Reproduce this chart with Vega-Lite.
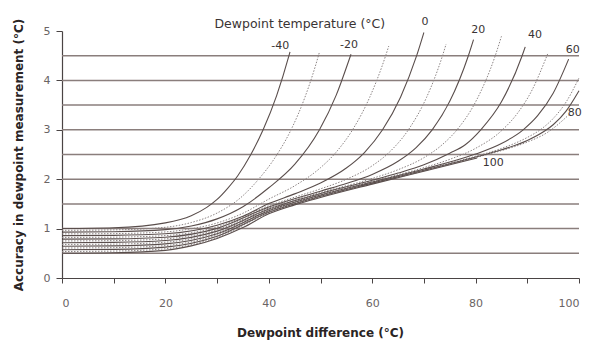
{
  "$schema": "https://vega.github.io/schema/vega-lite/v6.json",
  "width": 517,
  "height": 247,
  "autosize": {"type": "none"},
  "padding": {"left": 62, "top": 31, "right": 17, "bottom": 69},
  "background": "white",
  "config": {"view": {"stroke": null}},
  "datasets": {
    "curves": [
      {"T": -40, "x": 0, "y": 1.002}, {"T": -40, "x": 10, "y": 1.018}, {"T": -40, "x": 20, "y": 1.116}, {"T": -40, "x": 25, "y": 1.26}, {"T": -40, "x": 28, "y": 1.43}, {"T": -40, "x": 30, "y": 1.59}, {"T": -40, "x": 32, "y": 1.81}, {"T": -40, "x": 34, "y": 2.07}, {"T": -40, "x": 36.5, "y": 2.494}, {"T": -40, "x": 38.9, "y": 3.0}, {"T": -40, "x": 41.5, "y": 3.687}, {"T": -40, "x": 43.9, "y": 4.5}, {"T": -40, "x": 44.1, "y": 4.576},
      {"T": -30, "x": 0, "y": 0.965}, {"T": -30, "x": 10, "y": 0.974}, {"T": -30, "x": 20, "y": 1.027}, {"T": -30, "x": 25, "y": 1.123}, {"T": -30, "x": 30, "y": 1.315}, {"T": -30, "x": 35, "y": 1.667}, {"T": -30, "x": 38, "y": 1.996}, {"T": -30, "x": 41, "y": 2.405}, {"T": -30, "x": 44.3, "y": 3.0}, {"T": -30, "x": 47, "y": 3.662}, {"T": -30, "x": 49.6, "y": 4.5}, {"T": -30, "x": 49.8, "y": 4.574},
      {"T": -20, "x": 0, "y": 0.929}, {"T": -20, "x": 10, "y": 0.937}, {"T": -20, "x": 20, "y": 0.979}, {"T": -20, "x": 25, "y": 1.054}, {"T": -20, "x": 30, "y": 1.197}, {"T": -20, "x": 35, "y": 1.443}, {"T": -20, "x": 40, "y": 1.826}, {"T": -20, "x": 45, "y": 2.298}, {"T": -20, "x": 49.8, "y": 3.0}, {"T": -20, "x": 53, "y": 3.691}, {"T": -20, "x": 55.8, "y": 4.5}, {"T": -20, "x": 55.9, "y": 4.53},
      {"T": -10, "x": 0, "y": 0.893}, {"T": -10, "x": 10, "y": 0.899}, {"T": -10, "x": 20, "y": 0.933}, {"T": -10, "x": 25, "y": 0.997}, {"T": -10, "x": 30, "y": 1.114}, {"T": -10, "x": 35, "y": 1.311}, {"T": -10, "x": 40, "y": 1.597}, {"T": -10, "x": 45, "y": 1.866}, {"T": -10, "x": 50, "y": 2.233}, {"T": -10, "x": 53, "y": 2.544}, {"T": -10, "x": 56.2, "y": 3.0}, {"T": -10, "x": 59.5, "y": 3.654}, {"T": -10, "x": 62.6, "y": 4.5}, {"T": -10, "x": 63.2, "y": 4.695},
      {"T": 0, "x": 0, "y": 0.857}, {"T": 0, "x": 10, "y": 0.863}, {"T": 0, "x": 20, "y": 0.895}, {"T": 0, "x": 30, "y": 1.068}, {"T": 0, "x": 35, "y": 1.25}, {"T": 0, "x": 40, "y": 1.506}, {"T": 0, "x": 45, "y": 1.703}, {"T": 0, "x": 50, "y": 1.922}, {"T": 0, "x": 55, "y": 2.226}, {"T": 0, "x": 58.5, "y": 2.54}, {"T": 0, "x": 62, "y": 3.0}, {"T": 0, "x": 65.5, "y": 3.666}, {"T": 0, "x": 68.6, "y": 4.5}, {"T": 0, "x": 70, "y": 4.97},
      {"T": 10, "x": 0, "y": 0.821}, {"T": 10, "x": 10, "y": 0.827}, {"T": 10, "x": 20, "y": 0.859}, {"T": 10, "x": 30, "y": 1.033}, {"T": 10, "x": 40, "y": 1.463}, {"T": 10, "x": 45, "y": 1.637}, {"T": 10, "x": 50, "y": 1.804}, {"T": 10, "x": 55, "y": 1.998}, {"T": 10, "x": 60, "y": 2.272}, {"T": 10, "x": 63.5, "y": 2.565}, {"T": 10, "x": 67, "y": 3.0}, {"T": 10, "x": 70.5, "y": 3.653}, {"T": 10, "x": 73.6, "y": 4.5}, {"T": 10, "x": 74.3, "y": 4.737},
      {"T": 20, "x": 0, "y": 0.786}, {"T": 20, "x": 10, "y": 0.792}, {"T": 20, "x": 20, "y": 0.826}, {"T": 20, "x": 30, "y": 1.005}, {"T": 20, "x": 40, "y": 1.438}, {"T": 20, "x": 50, "y": 1.758}, {"T": 20, "x": 55, "y": 1.913}, {"T": 20, "x": 60, "y": 2.097}, {"T": 20, "x": 65, "y": 2.362}, {"T": 20, "x": 68.5, "y": 2.64}, {"T": 20, "x": 71.6, "y": 3.0}, {"T": 20, "x": 75, "y": 3.576}, {"T": 20, "x": 78.6, "y": 4.5}, {"T": 20, "x": 79.6, "y": 4.826},
      {"T": 30, "x": 0, "y": 0.75}, {"T": 30, "x": 10, "y": 0.757}, {"T": 30, "x": 20, "y": 0.792}, {"T": 30, "x": 30, "y": 0.976}, {"T": 30, "x": 40, "y": 1.416}, {"T": 30, "x": 50, "y": 1.73}, {"T": 30, "x": 60, "y": 2.015}, {"T": 30, "x": 65, "y": 2.192}, {"T": 30, "x": 70, "y": 2.436}, {"T": 30, "x": 73.5, "y": 2.694}, {"T": 30, "x": 76.4, "y": 3.0}, {"T": 30, "x": 80, "y": 3.565}, {"T": 30, "x": 83.8, "y": 4.5}, {"T": 30, "x": 85, "y": 4.893},
      {"T": 40, "x": 0, "y": 0.714}, {"T": 40, "x": 10, "y": 0.721}, {"T": 40, "x": 20, "y": 0.758}, {"T": 40, "x": 30, "y": 0.949}, {"T": 40, "x": 40, "y": 1.397}, {"T": 40, "x": 50, "y": 1.711}, {"T": 40, "x": 60, "y": 1.979}, {"T": 40, "x": 65, "y": 2.124}, {"T": 40, "x": 70, "y": 2.292}, {"T": 40, "x": 75, "y": 2.525}, {"T": 40, "x": 78, "y": 2.698}, {"T": 40, "x": 81, "y": 3.0}, {"T": 40, "x": 85, "y": 3.566}, {"T": 40, "x": 89, "y": 4.5}, {"T": 40, "x": 89.6, "y": 4.679},
      {"T": 50, "x": 0, "y": 0.679}, {"T": 50, "x": 10, "y": 0.686}, {"T": 50, "x": 20, "y": 0.725}, {"T": 50, "x": 30, "y": 0.923}, {"T": 50, "x": 40, "y": 1.379}, {"T": 50, "x": 50, "y": 1.695}, {"T": 50, "x": 60, "y": 1.959}, {"T": 50, "x": 70, "y": 2.234}, {"T": 50, "x": 75, "y": 2.402}, {"T": 50, "x": 80, "y": 2.625}, {"T": 50, "x": 85.2, "y": 3.0}, {"T": 50, "x": 88, "y": 3.321}, {"T": 50, "x": 91, "y": 3.821}, {"T": 50, "x": 93.8, "y": 4.5}, {"T": 50, "x": 94, "y": 4.552},
      {"T": 60, "x": 0, "y": 0.643}, {"T": 60, "x": 10, "y": 0.651}, {"T": 60, "x": 20, "y": 0.691}, {"T": 60, "x": 30, "y": 0.896}, {"T": 60, "x": 40, "y": 1.361}, {"T": 60, "x": 50, "y": 1.68}, {"T": 60, "x": 60, "y": 1.943}, {"T": 60, "x": 70, "y": 2.206}, {"T": 60, "x": 75, "y": 2.349}, {"T": 60, "x": 80, "y": 2.509}, {"T": 60, "x": 85, "y": 2.722}, {"T": 60, "x": 89.2, "y": 3.0}, {"T": 60, "x": 92, "y": 3.285}, {"T": 60, "x": 95, "y": 3.739}, {"T": 60, "x": 98, "y": 4.43},
      {"T": 70, "x": 0, "y": 0.607}, {"T": 70, "x": 10, "y": 0.615}, {"T": 70, "x": 20, "y": 0.657}, {"T": 70, "x": 30, "y": 0.871}, {"T": 70, "x": 40, "y": 1.345}, {"T": 70, "x": 50, "y": 1.667}, {"T": 70, "x": 60, "y": 1.931}, {"T": 70, "x": 70, "y": 2.19}, {"T": 70, "x": 75, "y": 2.325}, {"T": 70, "x": 80, "y": 2.464}, {"T": 70, "x": 85, "y": 2.623}, {"T": 70, "x": 90, "y": 2.845}, {"T": 70, "x": 92.5, "y": 3.0}, {"T": 70, "x": 95, "y": 3.228}, {"T": 70, "x": 97.5, "y": 3.561}, {"T": 70, "x": 100, "y": 4.05},
      {"T": 80, "x": 0, "y": 0.571}, {"T": 80, "x": 10, "y": 0.58}, {"T": 80, "x": 20, "y": 0.625}, {"T": 80, "x": 30, "y": 0.846}, {"T": 80, "x": 40, "y": 1.329}, {"T": 80, "x": 50, "y": 1.654}, {"T": 80, "x": 60, "y": 1.92}, {"T": 80, "x": 70, "y": 2.18}, {"T": 80, "x": 75, "y": 2.313}, {"T": 80, "x": 80, "y": 2.448}, {"T": 80, "x": 85, "y": 2.595}, {"T": 80, "x": 90, "y": 2.784}, {"T": 80, "x": 93.5, "y": 2.985}, {"T": 80, "x": 95, "y": 3.103}, {"T": 80, "x": 97.5, "y": 3.378}, {"T": 80, "x": 100, "y": 3.79},
      {"T": 90, "x": 0, "y": 0.536}, {"T": 90, "x": 10, "y": 0.545}, {"T": 90, "x": 20, "y": 0.592}, {"T": 90, "x": 30, "y": 0.823}, {"T": 90, "x": 40, "y": 1.314}, {"T": 90, "x": 50, "y": 1.643}, {"T": 90, "x": 60, "y": 1.91}, {"T": 90, "x": 70, "y": 2.17}, {"T": 90, "x": 80, "y": 2.438}, {"T": 90, "x": 85, "y": 2.579}, {"T": 90, "x": 90, "y": 2.752}, {"T": 90, "x": 94, "y": 2.954}, {"T": 90, "x": 98, "y": 3.3},
      {"T": 100, "x": 0, "y": 0.5}, {"T": 100, "x": 10, "y": 0.51}, {"T": 100, "x": 20, "y": 0.56}, {"T": 100, "x": 25, "y": 0.65}, {"T": 100, "x": 30, "y": 0.8}, {"T": 100, "x": 35, "y": 1.02}, {"T": 100, "x": 40, "y": 1.3}, {"T": 100, "x": 45, "y": 1.48}, {"T": 100, "x": 50, "y": 1.63}, {"T": 100, "x": 60, "y": 1.9}, {"T": 100, "x": 70, "y": 2.16}, {"T": 100, "x": 80.3, "y": 2.43}
    ],
    "labels": [
      {"label": "-40", "x": 42.2, "y": 4.7},
      {"label": "-20", "x": 55.5, "y": 4.72},
      {"label": "0", "x": 70.2, "y": 5.18},
      {"label": "20", "x": 80.5, "y": 5.02},
      {"label": "40", "x": 91.5, "y": 4.92},
      {"label": "60", "x": 98.8, "y": 4.62},
      {"label": "80", "x": 99.2, "y": 3.34},
      {"label": "100", "x": 83.4, "y": 2.33}
    ]
  },
  "layer": [
    {
      "data": {"values": [{"g": 0.5}, {"g": 1}, {"g": 1.5}, {"g": 2}, {"g": 2.5}, {"g": 3}, {"g": 3.5}, {"g": 4}, {"g": 4.5}]},
      "mark": {"type": "rule", "color": "#8a7e7c", "strokeWidth": 1.5},
      "encoding": {"y": {"field": "g", "type": "quantitative", "scale": {"domain": [0, 5]}}}
    },
    {
      "data": {"name": "curves"},
      "transform": [{"filter": "datum.T % 20 !== 0"}],
      "mark": {"type": "line", "interpolate": "monotone", "color": "#8c8484", "strokeWidth": 1, "strokeDash": [1.5, 1.5]},
      "encoding": {
        "x": {"field": "x", "type": "quantitative"},
        "y": {"field": "y", "type": "quantitative"},
        "detail": {"field": "T", "type": "nominal"},
        "order": {"field": "x", "type": "quantitative"}
      }
    },
    {
      "data": {"name": "curves"},
      "transform": [{"filter": "datum.T % 20 === 0"}],
      "mark": {"type": "line", "interpolate": "monotone", "color": "#5a4e4c", "strokeWidth": 1.1},
      "encoding": {
        "x": {"field": "x", "type": "quantitative"},
        "y": {"field": "y", "type": "quantitative"},
        "detail": {"field": "T", "type": "nominal"},
        "order": {"field": "x", "type": "quantitative"}
      }
    },
    {
      "data": {"name": "labels"},
      "mark": {"type": "text", "font": "DejaVu Sans", "fontSize": 11, "color": "#3a3434", "align": "center", "baseline": "middle", "clip": false},
      "encoding": {
        "x": {"field": "x", "type": "quantitative"},
        "y": {"field": "y", "type": "quantitative"},
        "text": {"field": "label"}
      }
    },
    {
      "data": {"values": [{"label": "Dewpoint temperature (°C)", "x": 46, "y": 5.14}]},
      "mark": {"type": "text", "font": "DejaVu Sans", "fontSize": 12.5, "color": "#3a3434", "align": "center", "baseline": "middle", "clip": false},
      "encoding": {
        "x": {"field": "x", "type": "quantitative"},
        "y": {"field": "y", "type": "quantitative"},
        "text": {"field": "label"}
      }
    }
  ],
  "encoding": {
    "x": {
      "type": "quantitative",
      "scale": {"domain": [0, 100], "nice": false},
      "axis": {
        "title": "Dewpoint difference (°C)",
        "values": [0, 10, 20, 30, 40, 50, 60, 70, 80, 90, 100],
        "labelExpr": "datum.value % 20 === 0 ? datum.label : ''",
        "grid": false,
        "domainColor": "#4a4444",
        "domainWidth": 1.2,
        "tickColor": "#4a4444",
        "tickSize": 5,
        "labelFont": "DejaVu Sans",
        "labelFontSize": 11,
        "labelColor": "#6a6464",
        "labelPadding": 14,
        "titleFont": "DejaVu Sans",
        "titleFontSize": 12,
        "titleFontWeight": "bold",
        "titleColor": "#2a2424",
        "titleX": 258,
        "titleY": 54,
        "titleBaseline": "middle"
      }
    },
    "y": {
      "type": "quantitative",
      "scale": {"domain": [0, 5], "nice": false},
      "axis": {
        "title": "Accuracy in dewpoint measurement (°C)",
        "values": [0, 1, 2, 3, 4, 5],
        "grid": false,
        "domainColor": "#4a4444",
        "domainWidth": 1.2,
        "tickColor": "#4a4444",
        "tickSize": 6,
        "labelFont": "DejaVu Sans",
        "labelFontSize": 11,
        "labelColor": "#6a6464",
        "labelPadding": 6,
        "titleFont": "DejaVu Sans",
        "titleFontSize": 12,
        "titleFontWeight": "bold",
        "titleColor": "#2a2424",
        "titleX": -44,
        "titleY": 123.5,
        "titleAngle": -90,
        "titleAlign": "center",
        "titleBaseline": "middle"
      }
    }
  }
}
